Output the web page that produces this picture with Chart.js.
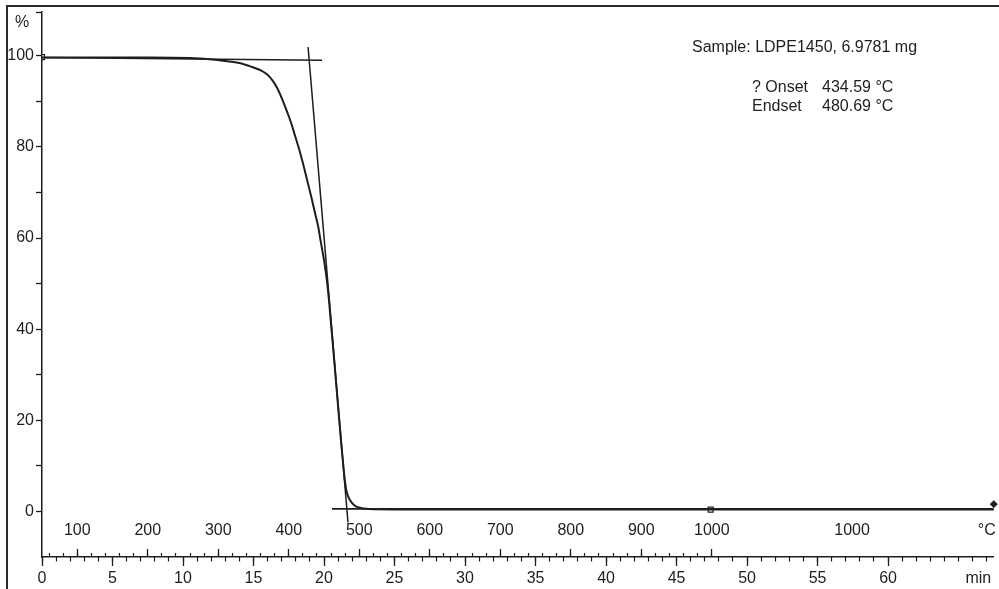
<!DOCTYPE html>
<html>
<head>
<meta charset="utf-8">
<script src="https://cdn.jsdelivr.net/npm/chart.js@4.4.1/dist/chart.umd.min.js"></script>
<style>
html, body { margin: 0; padding: 0; background: #fff; }
#wrap { position: relative; width: 999px; height: 589px; }
#frame { position: absolute; left: 6px; top: 5px; width: 993px; height: 582px;
  border-left: 2px solid #2a2a2a; border-top: 2px solid #2a2a2a; border-bottom: 2px solid #777;
  pointer-events: none; }
</style>
</head>
<body>
<div id="wrap">
  <canvas id="tga" width="999" height="589"></canvas>
  <div id="frame"></div>
</div>
<script>
// TGA curve, time in min, residual mass in %
var timeMin = [0, 7.63, 11.17, 12.72, 13.99, 14.91, 15.55, 15.97, 16.33, 16.68, 17.03, 17.39, 17.67,
  17.95, 18.23, 18.52, 18.80, 19.15, 19.36, 19.58, 19.75, 20.00, 20.20, 20.35, 20.66, 20.96, 21.20,
  21.40, 21.52, 21.63, 21.84, 22.12, 22.47, 23.18, 25, 30, 40, 50, 60, 67.5];
var massPct = [99.6, 99.6, 99.39, 98.95, 98.4, 97.52, 96.75, 95.87, 94.66, 92.91, 90.5, 87.64, 85.23,
  82.38, 79.53, 76.24, 72.72, 68.33, 65.48, 62.63, 59.55, 55.16, 50.77, 46.38, 35.41, 24.44, 15.66,
  9.08, 5.79, 4.04, 2.5, 1.4, 0.86, 0.53, 0.45, 0.45, 0.45, 0.45, 0.45, 0.45];

// evaluation lines (onset / endset)
var onsetBaseT = [0, 19.86];
var onsetBaseP = [99.6, 99.0];
var slopeT = [18.87, 21.70];
var slopeP = [101.9, -2.4];
var endBaseT = [20.57, 67.5];
var endBaseP = [0.55, 0.55];

// little instrument markers
var markT = [0, 47.42];
var markP = [99.7, 0.4];
var endMarkT = [67.5];
var endMarkP = [1.6];

// axes
var timeMax = 67.5;
var yMin = -10, yMax = 109.6;
var yTicks = [0, 10, 20, 30, 40, 50, 60, 70, 80, 90, 100, yMax];
var timeTicks = [0, 5, 10, 15, 20, 25, 30, 35, 40, 45, 50, 55, 60, 66.4];
var timeLabels = ['0', '5', '10', '15', '20', '25', '30', '35', '40', '45', '50', '55', '60', 'min'];
var tempTicks = [2.5, 7.5, 12.5, 17.5, 22.5, 27.5, 32.5, 37.5, 42.5, 47.5, 57.45, 67.0];
var tempLabels = ['100', '200', '300', '400', '500', '600', '700', '800', '900', '1000', '1000', '°C'];

var sampleText = 'Sample: LDPE1450, 6.9781 mg';
var resultNames = ['? Onset', 'Endset'];
var resultValues = ['434.59 °C', '480.69 °C'];

var FONT = '"Liberation Sans", Arial, sans-serif';
var INK = '#1e1e1e';

Chart.defaults.font.family = FONT;
Chart.defaults.font.size = 16;
Chart.defaults.color = INK;

function pts(xs, ys) {
  return xs.map(function (x, i) { return {x: x, y: ys[i]}; });
}
function setTicks(vals) {
  return function (s) { s.ticks = vals.map(function (v) { return {value: v}; }); };
}

var minorTime = [];
for (var m = 0; m <= 67; m++) minorTime.push(m);
var minorTemp = [];
for (var k = 0.5; k <= 47.5; k += 1) minorTemp.push(k);

var textPlugin = {
  id: 'textPlugin',
  afterDraw: function (chart) {
    var c = chart.ctx;
    c.save();
    c.fillStyle = INK;
    c.font = '16px ' + FONT;
    c.textBaseline = 'middle';
    c.fillText('%', 15, 23);
    c.fillText(sampleText, 692, 48);
    c.fillText(resultNames[0], 752, 88);
    c.fillText(resultValues[0], 822, 88);
    c.fillText(resultNames[1], 752, 107);
    c.fillText(resultValues[1], 822, 107);
    c.restore();
  }
};

var ctx = document.getElementById('tga').getContext('2d');
var chart = new Chart(ctx, {
  type: 'line',
  data: {
    datasets: [{
      data: pts(timeMin, massPct),
      borderColor: INK,
      borderWidth: 2,
      pointRadius: 0,
      cubicInterpolationMode: 'monotone'
    }, {
      data: pts(onsetBaseT, onsetBaseP),
      borderColor: INK, borderWidth: 1.5, pointRadius: 0
    }, {
      data: pts(slopeT, slopeP),
      borderColor: INK, borderWidth: 1.5, pointRadius: 0
    }, {
      data: pts(endBaseT, endBaseP),
      borderColor: INK, borderWidth: 1.8, pointRadius: 0
    }, {
      data: pts(markT, markP),
      showLine: false,
      pointStyle: 'rect',
      pointRadius: 3.5,
      pointBorderWidth: 1.2,
      pointBorderColor: INK,
      pointBackgroundColor: '#fff'
    }, {
      data: pts(endMarkT, endMarkP),
      showLine: false,
      clip: false,
      pointStyle: 'rectRot',
      pointRadius: 3.5,
      pointBorderWidth: 1,
      pointBorderColor: INK,
      pointBackgroundColor: INK
    }]
  },
  options: {
    responsive: false,
    animation: false,
    layout: {padding: {top: 12, right: 2, left: 0, bottom: 0}},
    plugins: {legend: {display: false}, tooltip: {enabled: false}},
    scales: {
      x: {
        type: 'linear', position: 'bottom', min: 0, max: timeMax,
        afterBuildTicks: setTicks(timeTicks),
        afterFit: function (s) { s.height = 32; },
        ticks: {
          autoSkip: false, maxRotation: 0, padding: 3,
          callback: function (v, i) { return timeLabels[i]; }
        },
        grid: {
          drawOnChartArea: false, tickLength: 9, tickWidth: 1.3, color: INK,
          tickColor: function (c) { return c.index === timeLabels.length - 1 ? 'rgba(0,0,0,0)' : INK; }
        },
        border: {display: true, color: INK, width: 1.5}
      },
      // one-minute ticks under the axis line
      xMinor: {
        type: 'linear', position: {y: yMin}, min: 0, max: timeMax,
        afterBuildTicks: setTicks(minorTime),
        ticks: {display: false, autoSkip: false},
        grid: {drawOnChartArea: false, tickLength: 4.5, tickWidth: 1.2, color: INK},
        border: {display: false}
      },
      // 20 degC ticks above the axis line
      xTempMinor: {
        type: 'linear', position: {y: -9.12}, min: 0, max: timeMax,
        afterBuildTicks: setTicks(minorTemp),
        ticks: {display: false, autoSkip: false},
        grid: {drawOnChartArea: false, tickLength: 4, tickWidth: 1.2, color: INK},
        border: {display: false}
      },
      // 100 degC ticks and temperature labels
      xTemp: {
        type: 'linear', position: {y: -8.24}, min: 0, max: timeMax,
        afterBuildTicks: setTicks(tempTicks),
        ticks: {
          autoSkip: false, maxRotation: 0, padding: -35.6,
          callback: function (v, i) { return tempLabels[i]; }
        },
        grid: {
          drawOnChartArea: false, tickLength: 8, tickWidth: 1.3, color: INK,
          tickColor: function (c) { return c.index >= 10 ? 'rgba(0,0,0,0)' : INK; }
        },
        border: {display: false}
      },
      y: {
        type: 'linear', position: 'left', min: yMin, max: yMax,
        afterBuildTicks: setTicks(yTicks),
        afterFit: function (s) { s.width = 42; },
        ticks: {
          autoSkip: false, padding: 2,
          callback: function (v) { return (v % 20 === 0 && v <= 100) ? String(v) : ''; }
        },
        grid: {drawOnChartArea: false, tickLength: 6, tickWidth: 1.3, color: INK},
        border: {color: INK, width: 1.5}
      }
    }
  },
  plugins: [textPlugin]
});
</script>
</body>
</html>
